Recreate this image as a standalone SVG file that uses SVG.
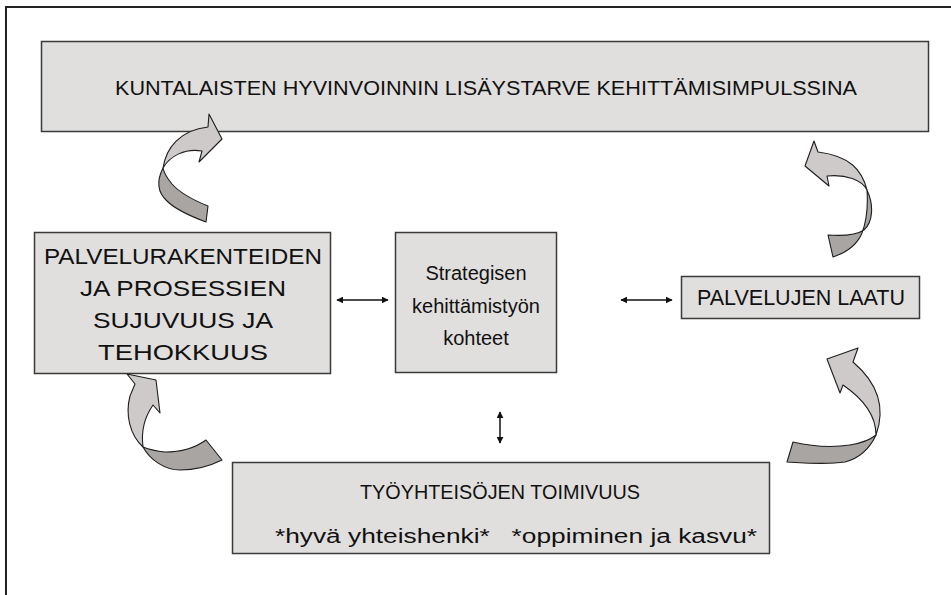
<svg xmlns="http://www.w3.org/2000/svg" width="951" height="595" viewBox="0 0 951 595">
  <style>
    .box { fill: #e0dfdd; stroke: #3a3a3a; stroke-width: 1.5; }
    .lbl { font-family: "Liberation Sans", Arial, sans-serif; font-size: 20px; fill: #111; text-anchor: middle; }
    .big { font-size: 21.5px; }
    .link { stroke: #111; stroke-width: 1.5; fill: none; marker-start: url(#tip); marker-end: url(#tip); }
    .band-light { fill: #cdcac9; stroke: #1e1e1e; stroke-width: 1.1; stroke-linejoin: round; }
    .band-dark { fill: #a9a5a2; stroke: #1e1e1e; stroke-width: 1.1; stroke-linejoin: round; }
  </style>
  <defs>
    <marker id="tip" viewBox="0 0 10 10" refX="9" refY="5" markerWidth="7" markerHeight="7" orient="auto-start-reverse" markerUnits="userSpaceOnUse">
      <path d="M0,0 L10,5 L0,10 Z" fill="#111"/>
    </marker>
  </defs>

  <rect width="951" height="595" fill="#ffffff"/>
  <!-- frame -->
  <polyline points="6,595 6,7 951,7" fill="none" stroke="#222" stroke-width="2"/>

  <g id="top-goal">
    <rect class="box" x="41.5" y="41.5" width="887" height="90"/>
    <text class="lbl" x="486" y="95" textLength="742" lengthAdjust="spacingAndGlyphs">KUNTALAISTEN HYVINVOINNIN LISÄYSTARVE KEHITTÄMISIMPULSSINA</text>
  </g>

  <g id="service-structures">
    <rect class="box" x="34.5" y="232.5" width="296" height="141"/>
    <text class="lbl big" x="183" y="264" textLength="278" lengthAdjust="spacingAndGlyphs">PALVELURAKENTEIDEN</text>
    <text class="lbl big" x="183" y="296" textLength="206" lengthAdjust="spacingAndGlyphs">JA PROSESSIEN</text>
    <text class="lbl big" x="183" y="328" textLength="180" lengthAdjust="spacingAndGlyphs">SUJUVUUS JA</text>
    <text class="lbl big" x="183" y="360" textLength="170" lengthAdjust="spacingAndGlyphs">TEHOKKUUS</text>
  </g>

  <g id="strategic-targets">
    <rect class="box" x="395.5" y="232.5" width="161" height="140"/>
    <text class="lbl" x="476" y="280">Strategisen</text>
    <text class="lbl" x="476" y="313">kehittämistyön</text>
    <text class="lbl" x="476" y="345">kohteet</text>
  </g>

  <g id="service-quality">
    <rect class="box" x="681.5" y="276.5" width="238" height="42"/>
    <text class="lbl big" x="801" y="305" textLength="208" lengthAdjust="spacingAndGlyphs">PALVELUJEN LAATU</text>
  </g>

  <g id="work-communities">
    <rect class="box" x="232.5" y="462.5" width="537" height="91"/>
    <text class="lbl" x="500" y="499" textLength="280" lengthAdjust="spacingAndGlyphs">TYÖYHTEISÖJEN TOIMIVUUS</text>
    <text class="lbl" x="516" y="543" textLength="482" lengthAdjust="spacingAndGlyphs" xml:space="preserve">*hyvä yhteishenki*   *oppiminen ja kasvu*</text>
  </g>

  <g id="connectors">
    <line class="link" x1="337" y1="300" x2="388" y2="300"/>
    <line class="link" x1="621" y1="300" x2="672" y2="300"/>
    <line class="link" x1="500" y1="412" x2="500" y2="443"/>

    <!-- curved ribbon arrows -->
    <g id="loop-top-left">
      <path class="band-dark" d="M163,168 C157,180 157,192 167,201 C175,209 190,216 206,222 L208,206 C193,200 180,193 172,184 C167,178 164,173 163,168 Z"/>
      <path class="band-light" d="M163,168 C166,148 180,130 208,127 L209,114 L222,139 L199,162 L202,151 C185,148 170,156 163,168 Z"/>
    </g>
    <g id="loop-top-right">
      <path class="band-dark" d="M867,190 C874,205 873,222 864,230 C855,236 842,236 828,235 L833,257 C845,253 857,245 862,233 C867,220 868,205 867,190 Z"/>
      <path class="band-light" d="M867,190 C862,170 850,156 818,152 L814,141 L805,166 L829,186 L827,176 C846,174 862,180 867,190 Z"/>
    </g>
    <g id="loop-bottom-left">
      <path class="band-dark" d="M143,447 C150,460 165,470 180,470 C195,470 210,466 222,460 L206,440 C195,448 180,452 165,452 C155,451 148,449 143,447 Z"/>
      <path class="band-light" d="M143,447 C130,435 125,415 130,396 L135,384 L127,374 L156,380 L160,413 L153,405 C144,418 141,432 143,447 Z"/>
    </g>
    <g id="loop-bottom-right">
      <path class="band-dark" d="M876,435 C870,448 860,458 845,462 C825,465 805,463 787,462 L793,442 C810,446 830,448 850,445 C862,443 870,440 876,435 Z"/>
      <path class="band-light" d="M876,435 C885,410 880,385 853,362 L858,348 L827,359 L840,393 L843,385 C862,398 876,415 876,435 Z"/>
    </g>
  </g>
</svg>
